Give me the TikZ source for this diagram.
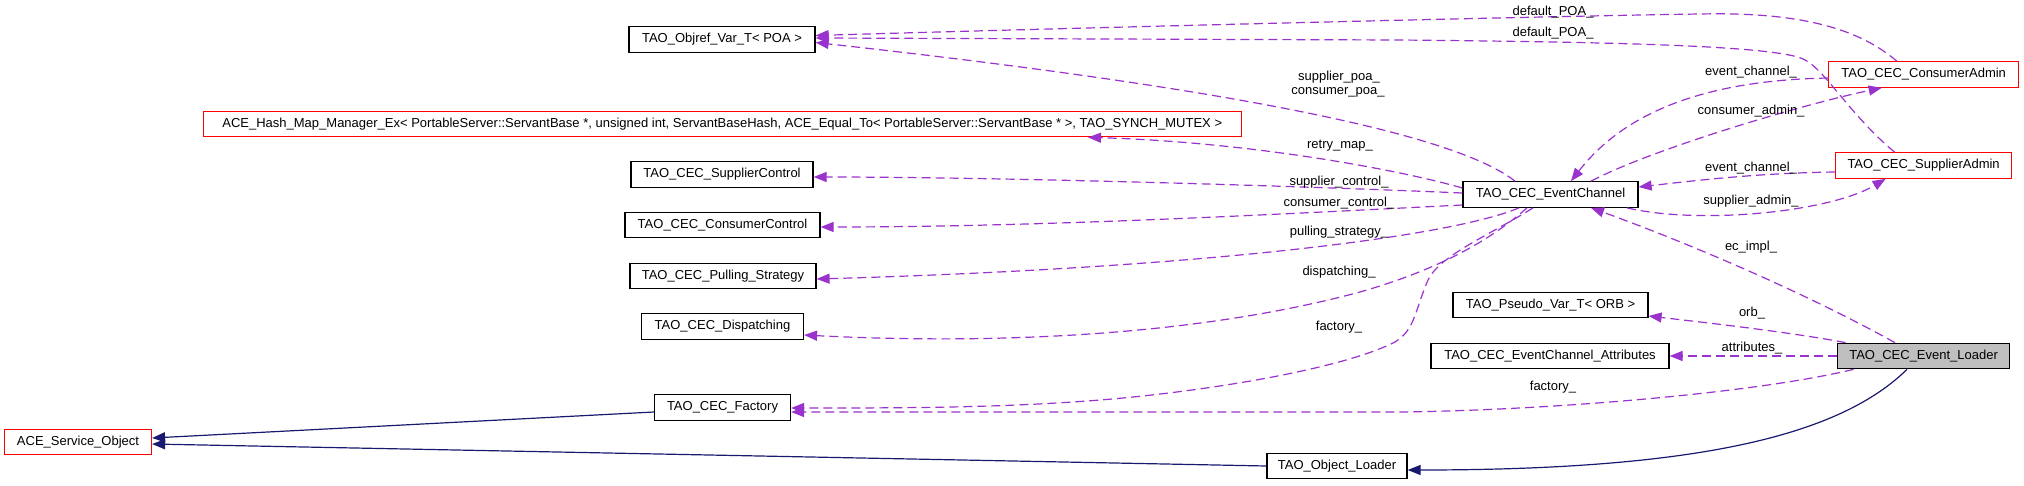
\documentclass[tikz,border=0pt]{standalone}
\usepackage{fontspec}
\setmainfont{Liberation Sans}
\usetikzlibrary{arrows.meta,calc}
\definecolor{edgep}{HTML}{9A32CD}
\definecolor{edgeb}{HTML}{191970}
\definecolor{boxred}{HTML}{FF0000}
\definecolor{boxgray}{HTML}{BFBFBF}
\begin{document}
\begin{tikzpicture}[x=1pt,y=-1pt,
  cls/.style={draw=black, fill=white, line width=1.2pt, minimum height=25.5pt, inner sep=0pt, font=\fontsize{13}{15}\selectfont, anchor=center},
  redcls/.style={cls, draw=boxred},
  mem/.style={draw=edgep, line width=1.2pt, dash pattern=on 9pt off 5pt, -{Triangle[length=13pt,width=10pt]}},
  inh/.style={draw=edgeb, line width=1.2pt, -{Triangle[length=13pt,width=10pt]}},
  lbl/.style={font=\fontsize{13}{15}\selectfont, inner sep=0pt}
]
\useasboundingbox (0,0) rectangle (2024,485);
\fill[white] (0,0) rectangle (2024,485);

% nodes
\node[cls, minimum width=186pt] (objref) at (722,39.5) {TAO\_Objref\_Var\_T< POA >};
\node[redcls, minimum width=1038pt] (hash) at (722.3,124) {ACE\_Hash\_Map\_Manager\_Ex< PortableServer::ServantBase *, unsigned int, ServantBaseHash, ACE\_Equal\_To< PortableServer::ServantBase * >, TAO\_SYNCH\_MUTEX >};
\node[cls, minimum width=182pt] (supc) at (722,174.5) {TAO\_CEC\_SupplierControl};
\node[cls, minimum width=195pt] (conc) at (722.5,225) {TAO\_CEC\_ConsumerControl};
\node[cls, minimum width=186pt] (pull) at (723,276) {TAO\_CEC\_Pulling\_Strategy};
\node[cls, minimum width=162pt] (disp) at (722.5,326.5) {TAO\_CEC\_Dispatching};
\node[cls, minimum width=136pt] (fact) at (722.5,407.5) {TAO\_CEC\_Factory};
\node[redcls, minimum width=147pt] (ace) at (78,442) {ACE\_Service\_Object};
\node[cls, minimum width=140pt] (oload) at (1337,466) {TAO\_Object\_Loader};
\node[cls, minimum width=175pt] (ec) at (1550.5,194.5) {TAO\_CEC\_EventChannel};
\node[redcls, minimum width=190pt] (ca) at (1923.7,74.5) {TAO\_CEC\_ConsumerAdmin};
\node[redcls, minimum width=176pt] (sa) at (1923.6,165.5) {TAO\_CEC\_SupplierAdmin};
\node[cls, minimum width=195pt] (pseudo) at (1550.5,305) {TAO\_Pseudo\_Var\_T< ORB >};
\node[cls, minimum width=238pt] (attr) at (1550,356) {TAO\_CEC\_EventChannel\_Attributes};
\node[cls, fill=boxgray, minimum width=172pt] (el) at (1923.6,356) {TAO\_CEC\_Event\_Loader};

% member edges
\draw[mem] ($(ca.north)+(-27,0)$) .. controls (1855,25) and (1790,12) .. (1700,14) .. controls (1500,17) and (1000,30) .. ($(objref.east)+(0,-4)$);
\draw[mem] ($(sa.north)+(-29,0)$) .. controls (1850,115) and (1825,70) .. (1805,60) .. controls (1780,45) and (1600,42) .. (1400,40) -- ($(objref.east)+(0,-1.5)$);
\draw[mem] ($(ec.north)+(-35.5,0)$) .. controls (1450,130) and (1200,85) .. ($(objref.east)+(0,3)$);
\draw[mem] ($(ec.north)+(40.5,0)$) .. controls (1650,150) and (1800,105) .. ($(ca.south)+(-42,0)$);
\draw[mem] ($(ca.west)+(0,3.5)$) .. controls (1720,80) and (1630,105) .. ($(ec.north)+(20.5,0)$);
\draw[mem] ($(sa.west)+(0,6.5)$) .. controls (1760,173) and (1700,180) .. ($(ec.east)+(0,-7.5)$);
\draw[mem] ($(ec.south)+(76.5,0)$) .. controls (1700,225) and (1830,212) .. ($(sa.south)+(-38,0)$);
\draw[mem] ($(ec.west)+(0,-6.5)$) .. controls (1400,170) and (1250,142) .. ($(hash.south)+(365.7,0)$);
\draw[mem] ($(ec.west)+(0,-1.5)$) .. controls (1300,186) and (1000,177) .. ($(supc.east)+(0,2.5)$);
\draw[mem] ($(ec.west)+(0,10.5)$) .. controls (1300,213) and (1050,227) .. ($(conc.east)+(0,2)$);
\draw[mem] ($(ec.south)+(-31.5,0)$) .. controls (1450,237) and (1200,268) .. ($(pull.east)+(0,3)$);
\draw[mem] ($(ec.south)+(-23.5,0)$) .. controls (1485,245) and (1430,272) .. (1360,292) .. controls (1200,335) and (1000,345) .. ($(disp.east)+(0,8.5)$);
\draw[mem] ($(ec.south)+(-17.5,0)$) .. controls (1490,235) and (1440,255) .. (1428,280) .. controls (1415,310) and (1415,330) .. (1395,342) .. controls (1340,370) and (1200,392) .. (1100,400) .. controls (1000,408) and (900,408) .. ($(fact.east)+(0,0.5)$);
\draw[mem] ($(el.north)+(-28.6,0)$) .. controls (1800,290) and (1680,240) .. ($(ec.south)+(40.5,0)$);
\draw[mem] ($(el.north)+(-78,0)$) .. controls (1790,332) and (1700,322) .. ($(pseudo.east)+(0,11)$);
\draw[mem] (el.west) -- (attr.east);
\draw[mem] ($(el.south)+(-70,0)$) .. controls (1760,392) and (1560,410) .. (1400,412) -- ($(fact.east)+(0,4.5)$);

% inheritance edges
\draw[inh] ($(el.south)+(-16.6,0)$) .. controls (1840,435) and (1700,470) .. ($(oload.east)+(0,4)$);
\draw[inh] ($(fact.west)+(0,4.5)$) -- ($(ace.east)+(0,-4)$);
\draw[inh] (oload.west) -- ($(ace.east)+(0,2)$);

% labels
\node[lbl] (l1) at (1553,12) {default\_POA\_};
\node[lbl] (l2) at (1553,33) {default\_POA\_};
\node[lbl] (l3a) at (1339,77) {supplier\_poa\_};
\node[lbl] (l3b) at (1338,92) {consumer\_poa\_};
\node[lbl] (l5) at (1751,72) {event\_channel\_};
\node[lbl] (l4) at (1751,111) {consumer\_admin\_};
\node[lbl] (l6) at (1751,168) {event\_channel\_};
\node[lbl] (l7) at (1751,201) {supplier\_admin\_};
\node[lbl] (l8) at (1340,146) {retry\_map\_};
\node[lbl] (l9) at (1339,182) {supplier\_control\_};
\node[lbl] (l10) at (1339,203) {consumer\_control\_};
\node[lbl] (l11) at (1339,232) {pulling\_strategy\_};
\node[lbl] (l12) at (1339,272) {dispatching\_};
\node[lbl] (l13) at (1339,327) {factory\_};
\node[lbl] (l14) at (1751,247) {ec\_impl\_};
\node[lbl] (l15) at (1752,313) {orb\_};
\node[lbl] (l16) at (1752,348) {attributes\_};
\node[lbl] (l17) at (1553,387) {factory\_};
\end{tikzpicture}
\end{document}
